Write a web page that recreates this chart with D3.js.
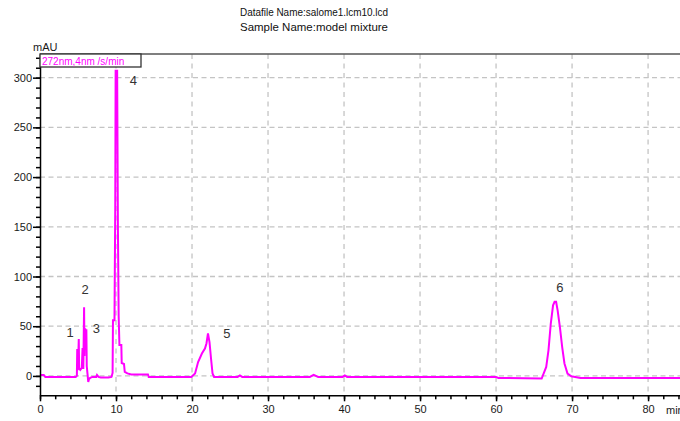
<!DOCTYPE html>
<html>
<head>
<meta charset="utf-8">
<script src="https://cdn.jsdelivr.net/npm/d3@7/dist/d3.min.js"></script>
<style>
  html, body { margin: 0; padding: 0; background: #fff; }
  svg { display: block; font-family: "Liberation Sans", Arial, sans-serif; }
</style>
</head>
<body>
<svg id="chart" width="680" height="421"></svg>
<script>
// Chromatogram trace: retention time (min) and detector response (mAU)
const timeMin = [
  0, 0.5, 0.7, 4.7, 4.85, 4.9, 4.95, 5.0, 5.1, 5.15, 5.2, 5.3, 5.5, 5.6, 5.7, 5.8, 5.85, 5.9,
  5.95, 6.0, 6.1, 6.15, 6.25, 6.35, 6.45, 6.6, 6.9, 7.4, 7.5, 7.7, 8.0, 9.0, 9.4, 9.55, 9.6,
  9.8, 9.9, 9.95, 10.15, 10.25, 10.35, 10.45, 10.7, 10.75, 11.05, 11.15, 11.5, 12.0, 14.2,
  14.3, 19.9, 20.4, 20.8, 21.3, 21.7, 21.9, 22.1, 22.3, 22.5, 22.7, 22.9, 26.0, 26.3, 26.6,
  35.5, 36.0, 36.6, 39.8, 40.1, 40.4, 60.0, 60.3, 66.0, 66.6, 66.9, 67.2, 67.5, 67.7, 67.9,
  68.1, 68.4, 68.7, 69.0, 69.4, 69.9, 71.1, 84.2
];
const mAU = [
  0.8, 0.8, -1, -1, 0, 27, 6, 8, 37, 8, 7, 6, 8, 28, 7, 69, 20, 47,
  47, 40, 47, 10, 2, -6, -3, -2, -1, -1, 1, -1, -1.5, -1.5, -1, 3, 56,
  56, 170, 307, 307, 150, 60, 31, 31, 13, 12, 4, 2.5, 1.5, 1.5,
  -1, -1, 2.4, 14, 22.5, 27.6, 32.6, 42.7, 34, 17.5, 2.4, -1, -1, 0.5, -1,
  -1, 1, -1, -1, 0.5, -1, -1, -2, -2.6, 9, 26, 52.7, 71, 74.5, 74.5,
  66, 49, 29, 12.5, 2.4, -0.3, -2, -2
];

// Numbered peak annotations (label anchor in data units)
const peakIds   = ["1", "2", "3", "4", "5", "6"];
const peakLabelT = [3.95, 5.95, 7.4, 12.3, 24.6, 68.4];
const peakLabelY = [44, 86.5, 48, 297, 42.5, 89];

// Axis ticks
const yMajorTicks = [0, 50, 100, 150, 200, 250, 300];
const yMinorTicks = d3.range(-10, 321, 10);
const xMajorTicks = [0, 10, 20, 30, 40, 50, 60, 70, 80];
const xMinorTicks = d3.range(0, 85, 2);

const titleLines = ["Datafile Name:salome1.lcm10.lcd", "Sample Name:model mixture"];
const channelName = "272nm,4nm /s/min";

const svg = d3.select("#chart");
const plotLeft = 40, plotRight = 680, plotTop = 54, plotBottom = 395.3;

const x = d3.scaleLinear().domain([0, 84.2]).range([plotLeft, plotRight]);
const y = d3.scaleLinear().domain([-19.5, 323.8]).range([plotBottom, plotTop]);

// Header
svg.append("g").selectAll("text").data(titleLines).join("text")
  .attr("x", 240).attr("y", (d, i) => 16 + i * 14.5)
  .attr("font-size", 11).attr("fill", "#111")
  .attr("textLength", 148).attr("lengthAdjust", "spacingAndGlyphs")
  .text(d => d);

// Grid
const grid = svg.append("g").attr("stroke", "#c4c4c4").attr("stroke-width", 1.3);
grid.selectAll("line.h").data(yMajorTicks).join("line").attr("class", "h")
  .attr("x1", plotLeft).attr("x2", plotRight)
  .attr("y1", d => y(d)).attr("y2", d => y(d))
  .attr("stroke-dasharray", "5,3.5");
grid.selectAll("line.v").data(xMajorTicks.filter(d => d > 0)).join("line").attr("class", "v")
  .attr("x1", d => x(d)).attr("x2", d => x(d))
  .attr("y1", plotTop).attr("y2", plotBottom)
  .attr("stroke-dasharray", "5,4.5");

// Top frame
svg.append("line").attr("x1", plotLeft).attr("x2", plotRight).attr("y1", plotTop).attr("y2", plotTop)
  .attr("stroke", "#555").attr("stroke-width", 1.5);

// Trace
const pts = timeMin.map((t, i) => [t, mAU[i]]);
svg.append("path").datum(pts)
  .attr("fill", "none").attr("stroke", "#ff00ff").attr("stroke-width", 2)
  .attr("stroke-linejoin", "miter")
  .attr("d", d3.line().x(d => x(d[0])).y(d => y(d[1])));

// Y axis: minor ticks, then major ticks with labels
svg.append("g").attr("transform", `translate(${plotLeft},0)`)
  .call(d3.axisLeft(y).tickValues(yMinorTicks).tickSize(4).tickFormat(""))
  .call(g => g.select(".domain").remove())
  .call(g => g.selectAll("line").attr("stroke", "#000").attr("stroke-width", 1.5));
svg.append("g").attr("transform", `translate(${plotLeft},0)`)
  .call(d3.axisLeft(y).tickValues(yMajorTicks).tickSize(7).tickPadding(1).tickSizeOuter(0))
  .call(g => g.select(".domain").attr("stroke", "#000").attr("stroke-width", 1.5))
  .call(g => g.selectAll("line").attr("stroke", "#000").attr("stroke-width", 1.5))
  .call(g => g.selectAll("text").attr("font-size", 11).attr("fill", "#1a1a1a")
    .attr("font-family", "Liberation Sans, Arial, sans-serif"));

// X axis
svg.append("g").attr("transform", `translate(0,${plotBottom})`)
  .call(d3.axisBottom(x).tickValues(xMinorTicks).tickSize(4).tickFormat(""))
  .call(g => g.select(".domain").remove())
  .call(g => g.selectAll("line").attr("stroke", "#000").attr("stroke-width", 1.5));
svg.append("g").attr("transform", `translate(0,${plotBottom})`)
  .call(d3.axisBottom(x).tickValues(xMajorTicks).tickSize(6).tickPadding(4).tickSizeOuter(0))
  .call(g => g.select(".domain").attr("stroke", "#000").attr("stroke-width", 1.5))
  .call(g => g.selectAll("line").attr("stroke", "#000").attr("stroke-width", 1.5))
  .call(g => g.selectAll("text").attr("font-size", 11).attr("fill", "#1a1a1a")
    .attr("font-family", "Liberation Sans, Arial, sans-serif"));

// Axis titles
svg.append("text").attr("x", 33).attr("y", 51).attr("font-size", 11).attr("fill", "#1a1a1a").text("mAU");
svg.append("text").attr("x", 666).attr("y", 414).attr("font-size", 11).attr("fill", "#1a1a1a").text("min");

// Channel box
svg.append("rect").attr("x", plotLeft).attr("y", plotTop).attr("width", 101).attr("height", 13)
  .attr("fill", "#fff").attr("stroke", "#333").attr("stroke-width", 1.3);
svg.append("text").attr("x", 42).attr("y", 64.5).attr("font-size", 10).attr("fill", "#ff00ff")
  .text(channelName);

// Peak numbers
svg.append("g").selectAll("text").data(peakIds).join("text")
  .attr("x", (d, i) => x(peakLabelT[i])).attr("y", (d, i) => y(peakLabelY[i]))
  .attr("text-anchor", "middle").attr("dominant-baseline", "central")
  .attr("font-size", 13).attr("fill", "#333")
  .text(d => d);
</script>
</body>
</html>
